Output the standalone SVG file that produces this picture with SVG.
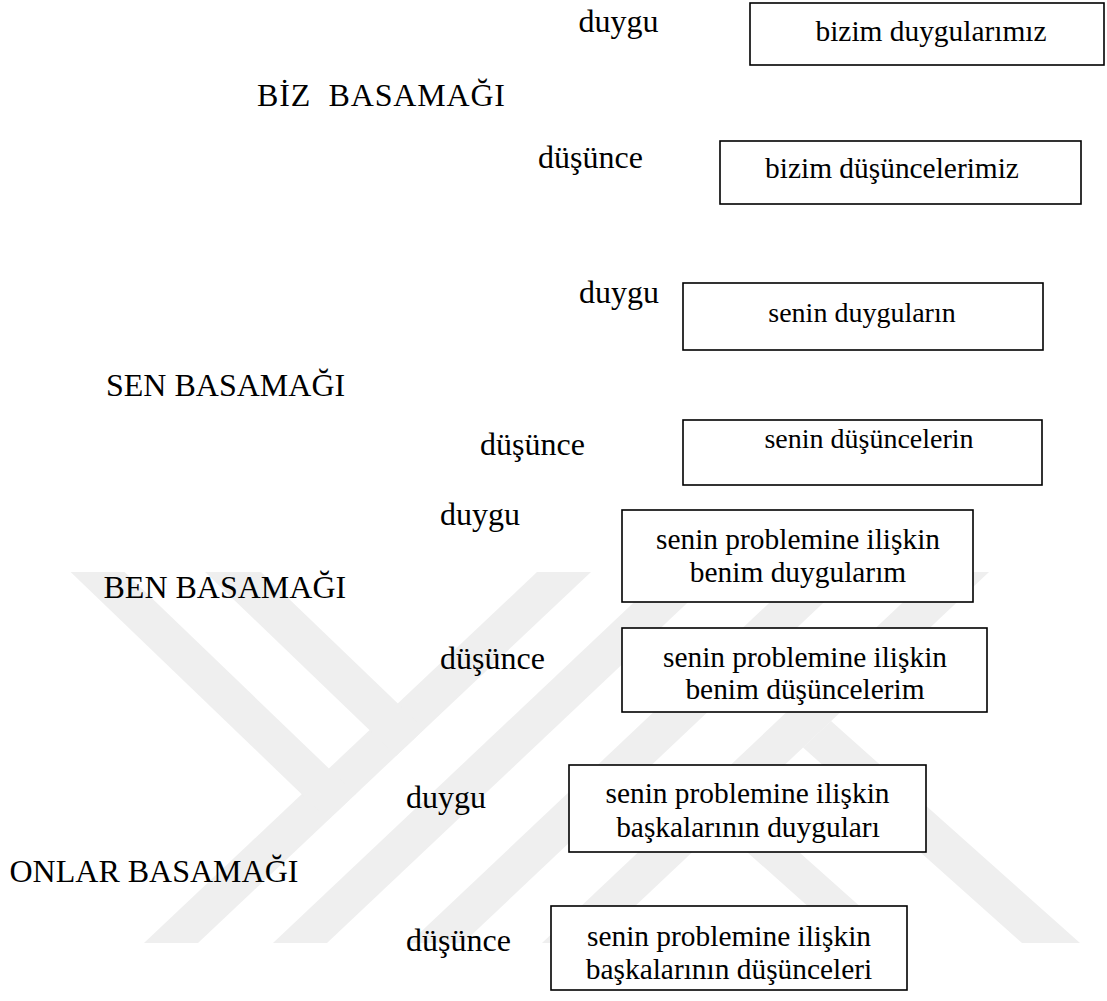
<svg xmlns="http://www.w3.org/2000/svg" width="1107" height="1001" viewBox="0 0 1107 1001">
<style>
.wm{fill:#efefef}
.lbl{font-family:"Liberation Serif","Times New Roman",serif;font-size:32px;fill:#000}
.bt{font-family:"Liberation Serif","Times New Roman",serif;font-size:29.4px;fill:#000;text-anchor:middle}
.bs{font-size:28px}
.box{fill:#fff;stroke:#000;stroke-width:1.6}
</style>
<rect x="0" y="0" width="1107" height="1001" fill="#fff"/>
<g id="watermark">
<polygon class="wm" points="537,572 591,572 198,943 144,943"/>
<polygon class="wm" points="70.6,572 124.6,572 355.5,794 328.2,819.7"/>
<polygon class="wm" points="205,572 261,572 424.4,729 396.2,755.7"/>
<polygon class="wm" points="666,572 720,572 327,943 273,943"/>
<polygon class="wm" points="802,572 856,572 463,943 409,943"/>
<polygon class="wm" points="935,572 989,572 596,943 542,943"/>
<polygon class="wm" points="831,721 1080,943 1022,943 803,747.5"/>
<polygon class="wm" points="716.5,778.5 901,943 849,943 691,802"/>
</g>
<g id="level-biz">
<text class="lbl" x="257" y="106" xml:space="preserve" textLength="248">BİZ  BASAMAĞI</text>
</g>
<g id="biz-duygu">
<text class="lbl" x="578.5" y="32">duygu</text>
<rect class="box" x="750" y="3" width="354" height="62"/>
<text class="bt" x="931" y="41">bizim duygularımız</text>
</g>
<g id="biz-dusunce">
<text class="lbl" x="538" y="168">düşünce</text>
<rect class="box" x="720" y="141" width="361" height="63"/>
<text class="bt" x="892" y="178">bizim düşüncelerimiz</text>
</g>
<g id="level-sen">
<text class="lbl" x="106" y="396">SEN BASAMAĞI</text>
</g>
<g id="sen-duygu">
<text class="lbl" x="579" y="303">duygu</text>
<rect class="box" x="683" y="283" width="360" height="67"/>
<text class="bt bs" x="862" y="322">senin duyguların</text>
</g>
<g id="sen-dusunce">
<text class="lbl" x="480" y="455">düşünce</text>
<rect class="box" x="683" y="420" width="359" height="65"/>
<text class="bt bs" x="869" y="448">senin düşüncelerin</text>
</g>
<g id="level-ben">
<text class="lbl" x="103.5" y="597.5">BEN BASAMAĞI</text>
</g>
<g id="ben-duygu">
<text class="lbl" x="440" y="525">duygu</text>
<rect class="box" x="622" y="510" width="351" height="92"/>
<text class="bt" x="798" y="549">senin problemine ilişkin</text>
<text class="bt" x="798" y="582">benim duygularım</text>
</g>
<g id="ben-dusunce">
<text class="lbl" x="440" y="668.5">düşünce</text>
<rect class="box" x="622" y="628" width="365" height="84"/>
<text class="bt" x="805" y="667">senin problemine ilişkin</text>
<text class="bt" x="805" y="699">benim düşüncelerim</text>
</g>
<g id="level-onlar">
<text class="lbl" x="9.5" y="882">ONLAR BASAMAĞI</text>
</g>
<g id="onlar-duygu">
<text class="lbl" x="406" y="808">duygu</text>
<rect class="box" x="569" y="765" width="357" height="87"/>
<text class="bt" x="747.5" y="803">senin problemine ilişkin</text>
<text class="bt" x="748" y="837">başkalarının duyguları</text>
</g>
<g id="onlar-dusunce">
<text class="lbl" x="406" y="951">düşünce</text>
<rect class="box" x="551" y="906" width="356" height="84"/>
<text class="bt" x="729" y="946">senin problemine ilişkin</text>
<text class="bt" x="729" y="979">başkalarının düşünceleri</text>
</g>
</svg>
